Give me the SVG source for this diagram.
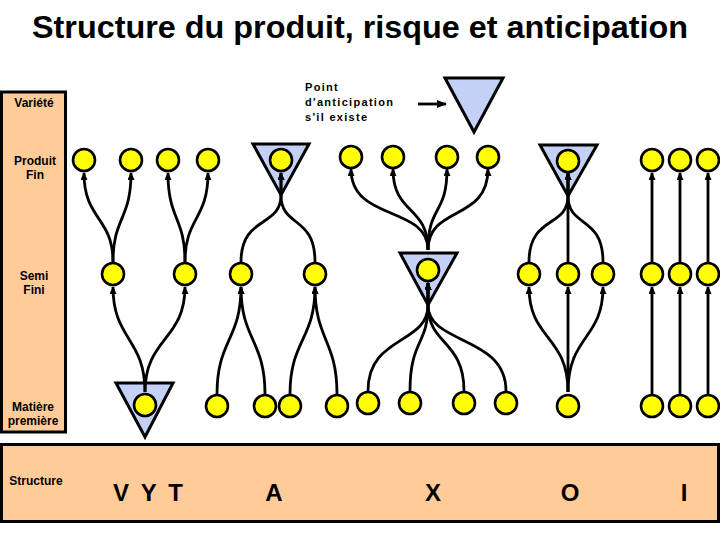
<svg xmlns="http://www.w3.org/2000/svg" width="720" height="540" viewBox="0 0 720 540">
<style>
  .lbl{font-family:"Liberation Sans",Arial,sans-serif;font-weight:bold;font-size:12px;fill:#000;text-anchor:middle}
  .big{font-family:"Liberation Sans",Arial,sans-serif;font-weight:bold;font-size:24px;fill:#000;text-anchor:middle}
  .leg{font-family:"Liberation Sans",Arial,sans-serif;font-weight:bold;font-size:11px;fill:#000;letter-spacing:1.3px}
  .band{fill:#FFCC99;stroke:#000;stroke-width:3}
  .tri{fill:#C5D0F7;stroke:#000;stroke-width:3;stroke-linejoin:miter}
  .nd{fill:#FFFF00;stroke:#000;stroke-width:2.6}
  .cn{fill:none;stroke:#000;stroke-width:2.8}
</style>
<defs>
  <marker id="ah" markerUnits="userSpaceOnUse" markerWidth="8" markerHeight="7" refX="7" refY="3.5" orient="auto">
    <path d="M0,0 L8,3.5 L0,7 z" fill="#000"/>
  </marker>
  <marker id="ahb" markerUnits="userSpaceOnUse" markerWidth="10" markerHeight="8" refX="9" refY="4" orient="auto">
    <path d="M0,0 L10,4 L0,8 z" fill="#000"/>
  </marker>
</defs>
<rect width="720" height="540" fill="#fff"/>
<text x="32" y="38" textLength="656" lengthAdjust="spacingAndGlyphs" style="font-family:'Liberation Sans',Arial,sans-serif;font-weight:bold;font-size:31px;fill:#000">Structure du produit, risque et anticipation</text>

<g id="axis">
  <rect class="band" x="1.5" y="92" width="64" height="340"/>
  <text class="lbl" x="34" y="107">Variété</text>
  <text class="lbl" x="35" y="165">Produit</text>
  <text class="lbl" x="35" y="179">Fin</text>
  <text class="lbl" x="34" y="280">Semi</text>
  <text class="lbl" x="34" y="294">Fini</text>
  <text class="lbl" x="33" y="411">Matière</text>
  <text class="lbl" x="33" y="425">première</text>
</g>
<g id="structure">
  <rect class="band" x="1.5" y="444.5" width="717" height="77"/>
  <text class="lbl" x="36" y="485">Structure</text>
  <text class="big" x="148" y="501" textLength="70" lengthAdjust="spacing">V Y T</text>
  <text class="big" x="274" y="501">A</text>
  <text class="big" x="433" y="501">X</text>
  <text class="big" x="570" y="501">O</text>
  <text class="big" x="684" y="501">I</text>
</g>

<g id="legend">
  <text class="leg" x="305" y="91">Point</text>
  <text class="leg" x="305" y="106">d'anticipation</text>
  <text class="leg" x="305" y="121">s'il existe</text>
  <path d="M418,104 L446,104" class="cn" marker-end="url(#ahb)"/>
  <polygon class="tri" points="445,78 503,78 474,132"/>
</g>

<g id="anticipation-points">
  <polygon id="tri-vyt" class="tri" points="116,383 173,383 145,437"/>
  <polygon id="tri-a" class="tri" points="253,144 309,144 281,195"/>
  <polygon id="tri-x" class="tri" points="400,253 457,253 428,305"/>
  <polygon id="tri-o" class="tri" points="540,145 597,145 568,196"/>
</g>

<g id="connectors" class="cn">
  <!-- V Y T -->
  <path d="M145,392 C145,338 113,340 113,287" marker-end="url(#ah)"/>
  <path d="M145,392 C145,338 185,340 185,287" marker-end="url(#ah)"/>
  <path d="M113,262 C113,217 84,220 84,173" marker-end="url(#ah)"/>
  <path d="M113,262 C113,217 131,220 131,173" marker-end="url(#ah)"/>
  <path d="M185,262 C185,217 168,220 168,173" marker-end="url(#ah)"/>
  <path d="M185,262 C185,217 208,220 208,173" marker-end="url(#ah)"/>
  <!-- A -->
  <path d="M217,394 C217,340 241,340 241,287" marker-end="url(#ah)"/>
  <path d="M265,394 C265,340 241,340 241,287" marker-end="url(#ah)"/>
  <path d="M290,394 C290,340 315,340 315,287" marker-end="url(#ah)"/>
  <path d="M337,394 C337,340 315,340 315,287" marker-end="url(#ah)"/>
  <path d="M241,262 C241,215 281,228 281,195 L281,173" marker-end="url(#ah)"/>
  <path d="M315,262 C315,215 281,228 281,195 L281,173" marker-end="url(#ah)"/>
  <!-- X -->
  <path d="M368,391 C368,335 428,345 428,305 L428,283" marker-end="url(#ah)"/>
  <path d="M410,391 C410,340 428,345 428,305 L428,283" marker-end="url(#ah)"/>
  <path d="M464,391 C464,340 428,345 428,305 L428,283" marker-end="url(#ah)"/>
  <path d="M506,391 C506,335 428,345 428,305 L428,283" marker-end="url(#ah)"/>
  <path d="M428,250 C428,205 351,222 351,169" marker-end="url(#ah)"/>
  <path d="M428,250 C428,205 393,215 393,169" marker-end="url(#ah)"/>
  <path d="M428,250 C428,205 447,215 447,169" marker-end="url(#ah)"/>
  <path d="M428,250 C428,205 488,222 488,169" marker-end="url(#ah)"/>
  <!-- O -->
  <path d="M568,392 C568,335 529,340 529,287" marker-end="url(#ah)"/>
  <path d="M568,392 L568,287" marker-end="url(#ah)"/>
  <path d="M568,392 C568,335 603,340 603,287" marker-end="url(#ah)"/>
  <path d="M529,262 C529,215 568,228 568,196 L568,173" marker-end="url(#ah)"/>
  <path d="M568,262 L568,173" marker-end="url(#ah)"/>
  <path d="M603,262 C603,215 568,228 568,196 L568,173" marker-end="url(#ah)"/>
  <!-- I -->
  <path d="M652,394 L652,287" marker-end="url(#ah)"/>
  <path d="M680,394 L680,287" marker-end="url(#ah)"/>
  <path d="M708,394 L708,287" marker-end="url(#ah)"/>
  <path d="M652,262 L652,173" marker-end="url(#ah)"/>
  <path d="M680,262 L680,173" marker-end="url(#ah)"/>
  <path d="M708,262 L708,173" marker-end="url(#ah)"/>
</g>

<g id="vyt-p1"><circle class="nd" cx="84" cy="160" r="11"/></g>
<g id="vyt-p2"><circle class="nd" cx="131" cy="160" r="11"/></g>
<g id="vyt-p3"><circle class="nd" cx="168" cy="160" r="11"/></g>
<g id="vyt-p4"><circle class="nd" cx="208" cy="160" r="11"/></g>
<g id="vyt-s1"><circle class="nd" cx="113" cy="274" r="11"/></g>
<g id="vyt-s2"><circle class="nd" cx="185" cy="274" r="11"/></g>
<g id="vyt-r1"><circle class="nd" cx="145" cy="405" r="11"/></g>

<g id="a-p1"><circle class="nd" cx="281" cy="160" r="11"/></g>
<g id="a-s1"><circle class="nd" cx="241" cy="274" r="11"/></g>
<g id="a-s2"><circle class="nd" cx="315" cy="274" r="11"/></g>
<g id="a-r1"><circle class="nd" cx="217" cy="406" r="11"/></g>
<g id="a-r2"><circle class="nd" cx="265" cy="406" r="11"/></g>
<g id="a-r3"><circle class="nd" cx="290" cy="406" r="11"/></g>
<g id="a-r4"><circle class="nd" cx="337" cy="406" r="11"/></g>

<g id="x-p1"><circle class="nd" cx="351" cy="157" r="11"/></g>
<g id="x-p2"><circle class="nd" cx="393" cy="157" r="11"/></g>
<g id="x-p3"><circle class="nd" cx="447" cy="157" r="11"/></g>
<g id="x-p4"><circle class="nd" cx="488" cy="157" r="11"/></g>
<g id="x-s1"><circle class="nd" cx="428" cy="270" r="11"/></g>
<g id="x-r1"><circle class="nd" cx="368" cy="403" r="11"/></g>
<g id="x-r2"><circle class="nd" cx="410" cy="403" r="11"/></g>
<g id="x-r3"><circle class="nd" cx="464" cy="403" r="11"/></g>
<g id="x-r4"><circle class="nd" cx="506" cy="403" r="11"/></g>

<g id="o-p1"><circle class="nd" cx="568" cy="161" r="11"/></g>
<g id="o-s1"><circle class="nd" cx="529" cy="274" r="11"/></g>
<g id="o-s2"><circle class="nd" cx="568" cy="274" r="11"/></g>
<g id="o-s3"><circle class="nd" cx="603" cy="274" r="11"/></g>
<g id="o-r1"><circle class="nd" cx="568" cy="406" r="11"/></g>

<g id="i-p1"><circle class="nd" cx="652" cy="160" r="11"/></g>
<g id="i-p2"><circle class="nd" cx="680" cy="160" r="11"/></g>
<g id="i-p3"><circle class="nd" cx="708" cy="160" r="11"/></g>
<g id="i-s1"><circle class="nd" cx="652" cy="274" r="11"/></g>
<g id="i-s2"><circle class="nd" cx="680" cy="274" r="11"/></g>
<g id="i-s3"><circle class="nd" cx="708" cy="274" r="11"/></g>
<g id="i-r1"><circle class="nd" cx="652" cy="406" r="11"/></g>
<g id="i-r2"><circle class="nd" cx="680" cy="406" r="11"/></g>
<g id="i-r3"><circle class="nd" cx="708" cy="406" r="11"/></g>
</svg>
